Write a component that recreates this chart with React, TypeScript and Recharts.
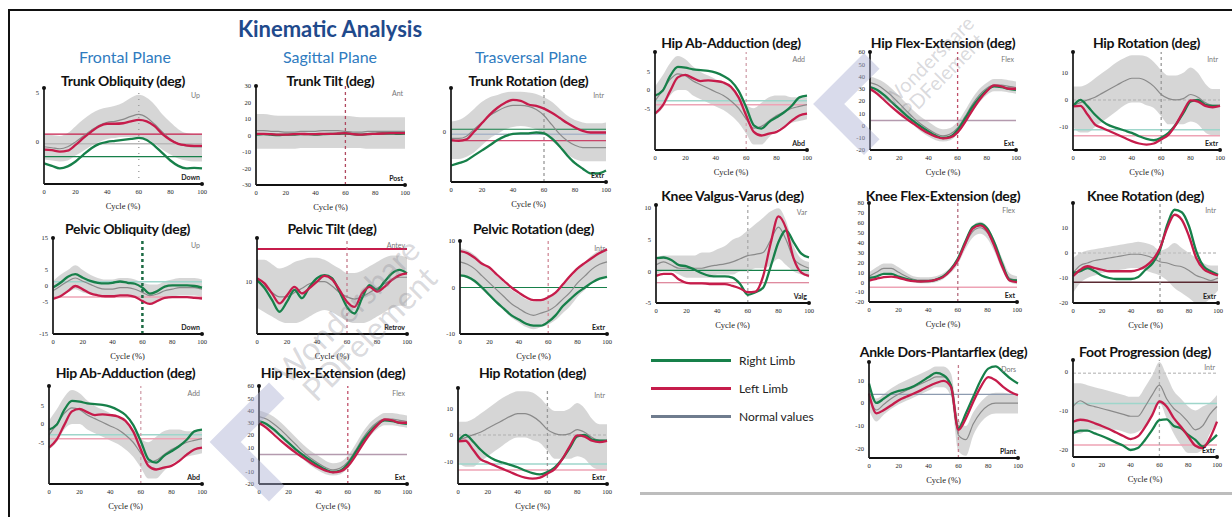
import React from 'react';
import { ComposedChart, Area, Line, XAxis, YAxis, ReferenceLine, ReferenceDot } from 'recharts';

// gait cycle sample points (%)
const CYCLE = [0, 5, 10, 15, 20, 25, 30, 35, 40, 45, 50, 55, 60, 65, 70, 75, 80, 85, 90, 95, 100];
const CYCLE_TICKS = [0, 20, 40, 60, 80, 100];

// ---- Trunk ----
const trunkObliqRight = [-2.2, -2.45, -2.7, -2.5, -2.0, -1.3, -0.65, -0.2, 0.0, 0.1, 0.2, 0.3, 0.4, 0.2, -0.4, -1.15, -1.9, -2.45, -2.7, -2.65, -2.7];
const trunkObliqLeft = [-0.8, -0.85, -1.0, -0.9, -0.3, 0.4, 1.05, 1.6, 1.85, 1.85, 1.9, 2.1, 2.25, 2.1, 1.6, 0.8, 0.2, -0.2, -0.35, -0.4, -0.4];
const trunkObliqNorm = [-0.5, -0.6, -0.7, -0.5, 0, 0.6, 1.2, 1.7, 2.0, 2.1, 2.3, 2.6, 2.8, 2.5, 1.8, 1.0, 0.3, -0.2, -0.4, -0.5, -0.5];
const trunkObliqHi = [0.8, 0.7, 0.6, 0.9, 1.6, 2.3, 2.9, 3.3, 3.5, 3.7, 4.0, 4.5, 4.8, 4.5, 3.8, 2.8, 2.0, 1.3, 0.9, 0.8, 0.8];
const trunkObliqLo = [-1.8, -1.9, -2.0, -1.9, -1.4, -0.9, -0.4, 0, 0.3, 0.4, 0.5, 0.5, 0.4, 0.3, -0.2, -0.8, -1.3, -1.7, -1.9, -2.0, -2.0];

const trunkTiltRight = [0.5, 0.8, 0.5, 0.3, 0.5, 0.5, 0.8, 0.8, 0.5, 0.8, 1, 1, 1.2, 0.8, 0.5, 0.8, 1, 1.2, 1.2, 1, 1.2];
const trunkTiltLeft = [1, 1, 0.8, 0.5, 0.5, 0.8, 1, 0.8, 0.8, 1, 1, 1.2, 1.5, 0.8, 0.5, 0.8, 1, 1.2, 1.5, 1.5, 1.5];
const trunkTiltNorm = [3, 3, 2.5, 2.5, 2, 2, 2.5, 2.5, 2.5, 3, 3, 3, 2.5, 2, 2, 2.5, 2.5, 2.5, 2.5, 2.5, 2.5];
const trunkTiltHi = [13, 13, 12.5, 12, 12, 12, 12, 12, 12, 12, 12, 12, 12, 11.5, 11, 11, 11, 11, 11, 11, 11];
const trunkTiltLo = [-8, -8, -8, -8, -8, -8, -7.5, -7.5, -7.5, -7.5, -7.5, -7.5, -7.5, -7.5, -7.5, -8, -8, -8, -8, -8, -8];

const trunkRotRight = [-7.4, -6.9, -6.3, -5.2, -4.1, -3.0, -1.85, -1.0, -0.5, -0.4, -0.4, -0.2, -0.4, -1.5, -3.2, -5.2, -6.9, -8.1, -9.1, -9.1, -8.5];
const trunkRotLeft = [-1.85, -2, -1.7, 0, 1.85, 3.7, 5.2, 6.3, 6.9, 6.7, 5.9, 5.6, 5.0, 4.1, 3.0, 1.85, 0.9, 0.15, -0.2, -0.2, -0.2];
const trunkRotNorm = [-1.5, -1.5, -1, 0.5, 2, 3.5, 4.5, 5.3, 5.7, 5.7, 5.5, 4.8, 3.5, 1.5, -0.5, -2, -3, -3.5, -3.5, -3.5, -3.5];
const trunkRotHi = [2.2, 2.5, 3.5, 5, 6.5, 7.5, 8, 8.5, 8.7, 8.7, 8.5, 8.2, 7.5, 6.5, 5, 3.5, 2.5, 2, 1.8, 1.8, 2];
const trunkRotLo = [-6, -6, -5.5, -4.5, -3, -1.5, -0.5, 0.5, 1, 1.2, 1, 0.5, -0.5, -2, -3.5, -5, -6, -6.5, -6.5, -6.5, -6.5];

// ---- Pelvis ----
const pelvObliqRight = [-0.5, 1, 2.9, 3.7, 2.6, 1.6, 1.0, 0.8, 1.0, 1.4, 1.0, 0.7, -0.5, -2.4, -1.6, -0.2, 0.2, 0.2, 0.2, 0, -0.5];
const pelvObliqLeft = [-4, -3.2, -1.6, 0, -1.05, -2.3, -2.9, -3.2, -3.2, -2.9, -2.9, -3.4, -4.7, -5.6, -4.7, -3.7, -3.5, -3.5, -3.5, -3.7, -3.9];
const pelvObliqNorm = [-1.5, 0, 1.5, 2.5, 1.5, 0.5, -0.5, -1, -1, -0.5, -0.5, -1, -2, -3, -2.5, -1.5, -1, -0.5, -0.5, -0.5, -1];
const pelvObliqHi = [1.5, 3.5, 5, 6.5, 5, 3.5, 2.5, 2, 2, 2.5, 2.5, 2, 1, 0.5, 0.5, 1.5, 2, 2.5, 2.5, 2.5, 2];
const pelvObliqLo = [-4, -3, -2, -1, -2, -2.5, -3, -3.5, -3.5, -3, -3, -3.5, -4.5, -5.5, -5, -4, -3.5, -3, -3, -3, -3.5];

const pelvTiltRight = [10.4, 8.5, 5.8, 3.1, 5.4, 8.1, 6.2, 8.8, 10.8, 11.5, 10.8, 7.7, 4.2, 2.7, 6.2, 9.2, 8.1, 10, 11.9, 12.7, 11.9];
const pelvTiltLeft = [10.8, 9.6, 7.3, 5, 6.9, 8.8, 7.3, 8.5, 10, 11.3, 10.5, 8.1, 5.4, 4.2, 7.3, 8.8, 7.7, 8.8, 10.4, 11.5, 11.9];
const pelvTiltNorm = [10, 9, 7.5, 6.5, 6.5, 7.5, 8.5, 9.5, 10, 10, 9, 7.5, 6.5, 6, 6.5, 7.5, 8.5, 9.5, 10.5, 11, 11];
const pelvTiltHi = [15, 15, 14, 13, 13.5, 14.5, 15, 15.5, 15.5, 15, 14, 13, 12, 12, 12.5, 13.5, 14.5, 15.5, 16, 16, 15.5];
const pelvTiltLo = [4, 3, 2, 1, 0.5, 0.5, 1, 2, 3, 3.5, 3, 2, 1, 0.5, 0.5, 1, 2, 3, 4, 4.5, 4.5];

const pelvRotRight = [2.6, 2.3, 1.4, 0, -1.6, -3.2, -4.6, -6, -6.9, -7.8, -8.2, -8.2, -7.4, -6, -4, -2.5, -1.1, 0, 1.1, 1.9, 2.3];
const pelvRotLeft = [7.8, 7.4, 6.4, 5.1, 4.3, 2.8, 1.4, 0, -1.1, -2.1, -2.7, -2.7, -2.1, -1.1, 0.7, 2.5, 4.1, 5.3, 6.4, 7.4, 8.2];
const pelvRotNorm = [5.5, 5, 4, 2.5, 1, -0.5, -2, -3.5, -4.5, -5.5, -6, -5.5, -5, -4, -2.5, -1, 1, 2.5, 4, 5, 5.5];
const pelvRotHi = [8.5, 8, 7, 5.5, 4, 2.5, 1, -0.5, -1.5, -2.5, -3, -2.5, -2, -1, 0.5, 2, 4, 5.5, 7, 8, 8.5];
const pelvRotLo = [2.5, 2, 1, -0.5, -2, -3.5, -5, -6.5, -7.5, -8.5, -9, -8.5, -8, -7, -5.5, -4, -2, -0.5, 1, 2, 2.5];

// ---- Hip ----
const hipAbAddRight = [-1.5, -0.2, 3.9, 6.4, 6.2, 5.7, 5.5, 5.3, 4.8, 3.9, 2.5, -0.2, -4.7, -9.7, -10.6, -8.8, -7.5, -6.1, -4.3, -2, -1.5];
const hipAbAddLeft = [-6.5, -4.3, -0.2, 3.5, 4.2, 3.3, 2.5, 2.7, 2.5, 2.1, 0.9, -2, -7, -11.5, -12.5, -12, -11.5, -10.2, -8.4, -7, -6.5];
const hipAbAddNorm = [-3, 0, 3, 4.5, 4, 2.5, 1.5, 0.5, -0.5, -1.5, -3, -5, -8, -10.5, -10, -8.5, -7, -6, -5, -4.5, -4];
const hipAbAddHi = [1, 4, 7.5, 9.4, 8.5, 6.5, 5, 4, 3, 2, 0.5, -1.5, -4, -5, -3.5, -2, -1.5, -1.5, -2, -2, -2];
const hipAbAddLo = [-7, -5, -1.5, 0, 0, -1.5, -2.5, -3.5, -4.5, -5.5, -7, -9, -12, -15, -15, -13, -11, -10, -9, -8.5, -8];

const hipFlexRight = [31.3, 29, 24.5, 19, 13.6, 8.1, 3.4, -0.9, -4.8, -8.3, -10.2, -9.1, -3.7, 5.4, 14.9, 22.6, 28.6, 31.9, 31.3, 30, 29];
const hipFlexLeft = [30, 25.8, 20.4, 15, 10, 5.4, 1.3, -2.8, -6.4, -9.1, -10.5, -9.7, -5.6, 2.6, 12.2, 21, 28, 32.7, 31.9, 30, 30];
const hipFlexNorm = [35, 33, 29, 24, 18, 12, 6, 1, -3, -6.5, -8.5, -7, -2, 7, 17, 25, 30.5, 33, 33, 32, 31];
const hipFlexHi = [40, 38, 35, 30, 24, 18, 12, 7, 3, -1, -3, -2, 3, 12, 22, 30, 35, 38, 38, 37, 36];
const hipFlexLo = [28, 26, 22, 17, 11, 5, 0, -5, -9, -12, -13, -12, -7, 2, 11, 19, 25, 28, 28, 27, 26];

const hipRotRight = [-2.4, 0, -2.4, -5.5, -7.9, -9.5, -10.4, -11.3, -12.2, -13.4, -14.4, -14.9, -14, -12.2, -9.1, -4.9, -0.6, 0, -1.8, -2.2, -2.2];
const hipRotLeft = [-2.4, -2.2, -5.5, -9.1, -10.4, -11.6, -12.8, -14, -15.2, -16.1, -16.5, -16.1, -14.6, -12.8, -9.1, -4.3, -0.2, -0.6, -2.2, -2.7, -2.2];
const hipRotNorm = [-2, -1, 0, 1, 2.5, 4, 5.5, 7, 8, 8, 7, 5, 2, 0.5, 0, 0.5, 2, 1, -1, -2, -2];
const hipRotHi = [5, 5, 6, 8, 10, 12, 14, 15.5, 16.5, 16.5, 16, 14, 11, 9, 9, 10, 12, 10, 6, 4, 4];
const hipRotLo = [-10, -12, -12, -10, -8, -6, -4, -2, -1, -1, -2, -3, -6, -9, -9, -9, -8, -9, -12, -13, -13];

// ---- Knee ----
const kneeVarRight = [2.1, 2.2, 1.8, 1.0, 0.8, 0.3, -0.3, -0.7, -0.8, -0.8, -1, -2, -3.7, -3.3, -2.6, 0.8, 4.6, 6.5, 4.6, 2.8, 2.2];
const kneeVarLeft = [-0.7, -0.4, -0.4, -1.3, -1.8, -1.9, -1.9, -2, -2, -2, -2.3, -2.7, -3.3, -3.2, -0.8, 4.5, 8.7, 6.8, 2.0, -0.2, -0.7];
const kneeVarNorm = [1, 1.5, 1, 0.5, 0.5, 0.5, 0.5, 0.8, 1, 1.2, 1.5, 2, 2.5, 2.7, 3, 5, 7, 5, 2, 1, 0.5];
const kneeVarHi = [2, 2.5, 2.5, 2.5, 2.5, 2.5, 3, 3, 3.5, 4, 5, 5.5, 6.5, 7.5, 8.5, 9.5, 10, 8, 4, 2, 1.5];
const kneeVarLo = [-0.5, 0, 0, -0.5, -1, -1, -1, -1, -0.5, -0.5, -0.5, 0, 0, 0.5, 0.5, 1, 2, 1, 0, -0.5, -1];

const kneeFlexRight = [4.4, 5.7, 8.4, 8.4, 5.7, 3.4, 1.7, 1, 1, 2.4, 5.7, 12.5, 23.6, 40.5, 55.7, 59, 54, 38.9, 18.6, 2.4, 1.7];
const kneeFlexLeft = [1.7, 3.4, 5.1, 5.7, 4.4, 2.4, 1, 0.7, 1, 2.4, 5.1, 11.8, 22, 38.9, 54, 57.4, 51.7, 35.5, 15.9, 1.7, 0];
const kneeFlexNorm = [6, 10, 14, 14, 10, 6, 3, 2, 2, 3, 6, 12, 22, 38, 51, 55, 50, 36, 18, 4, 2];
const kneeFlexHi = [10, 15, 19, 19, 15, 10, 6, 5, 5, 6, 9, 15, 26, 43, 57, 61, 56, 42, 24, 9, 6];
const kneeFlexLo = [2, 5, 9, 9, 5, 2, 0, -1, -1, 0, 3, 9, 18, 33, 45, 49, 44, 30, 12, 0, -2];

const kneeRotRight = [-8, -7.3, -6, -7.3, -9.1, -10, -10.4, -10.4, -10.4, -9.6, -6.7, -4, 1.3, 11.3, 17.3, 16.3, 10.7, 0.7, -5.3, -7.3, -8.7];
const kneeRotLeft = [-9.3, -6.7, -5.3, -6, -6.7, -7.3, -7.3, -7.3, -7.3, -6.7, -5.3, -2.7, 2, 10, 15.3, 13.3, 6.7, -2, -6.4, -8, -9];
const kneeRotNorm = [-8, -5, -4, -3, -2.5, -2, -1.5, -1, -0.5, -0.5, -1, -2, -3.5, -4, -5, -5.5, -7, -9, -10, -11, -10];
const kneeRotHi = [-2, 0, 1, 1.5, 2, 2.5, 3, 3.5, 4, 4.5, 4, 3, 1, 2, 4, 2, 0, -2, -4, -5, -5];
const kneeRotLo = [-16, -12, -10, -9, -8, -7.5, -7, -6.5, -6, -6, -7, -8, -9, -11, -14, -16, -18, -20, -20, -18, -15];

// ---- Ankle / foot ----
const ankleRight = [8.6, 0.1, 2.0, 4.2, 5.4, 6.1, 7.4, 9.3, 11.4, 13.2, 12.2, 7.8, -11, -4.5, 2.8, 10, 15.1, 16.1, 13.6, 10.7, 8.6];
const ankleLeft = [4.2, -4.5, -3, -0.9, 1.3, 2.8, 4.2, 5.7, 7.4, 8.8, 9.7, 7.1, -11.7, -6.7, 0.6, 7.1, 11.4, 10, 7.1, 4.9, 3.5];
const ankleNorm = [2, -3, -0.5, 2, 4, 5.5, 7, 8.5, 10, 11.5, 11.5, 8, -14, -16, -9, -4, -1, 0, 0, 0, 0];
const ankleHi = [7, 2, 4, 6.5, 8.5, 10, 11.5, 13, 14.5, 16, 16, 13, -7, -10, -4, 0.5, 3.5, 4.5, 4.5, 4, 4];
const ankleLo = [-3, -8, -5, -2.5, -0.5, 1, 2.5, 4, 5.5, 7, 7, 3, -21, -23, -14, -8.5, -5.5, -4.5, -4.5, -4.5, -4.5];

const footProgRight = [-15.9, -15.2, -15.2, -15.9, -16.6, -17.4, -18.3, -19.1, -20.2, -19.7, -17.6, -15, -12.5, -12.3, -14, -14.6, -16.3, -17.6, -19.3, -18, -16.3];
const footProgLeft = [-12.9, -12.4, -12.6, -13.3, -14, -14.8, -15.7, -16.6, -17.4, -16.7, -14.3, -11.2, -7.7, -9, -12, -14.2, -16.7, -19.1, -19.7, -17.2, -12.9];
const footProgNorm = [-9, -7.5, -8.5, -9, -9.5, -10, -10.5, -11, -11.5, -11.5, -9, -6, -3.5, -7, -9.5, -11, -13, -15, -14, -11, -9];
const footProgHi = [-3, -3, -3.5, -4, -4.5, -5, -5.5, -6, -6.5, -6.5, -4, -1, 2.5, -1, -5, -7, -9, -10, -9, -8, -6];
const footProgLo = [-16, -16, -15, -15, -15, -15, -15, -15.5, -16, -15.5, -14, -11, -8, -12, -16, -19, -21, -21, -20, -16, -13];

const GREEN = '#17804a';
const RED = '#c61c4b';
const NORM = '#8a8a8a';
const BAND = '#d2d2d2';
const PINK = '#eea3b5';
const CYAN = '#9ed6cb';
const GREYREF = '#b9b9b9';

type Ref = { y: number; color: string; width?: number; dash?: string };
type Spec = {
  title: string;
  right: number[]; left: number[]; norm: number[]; hi: number[]; lo: number[];
  domain: [number, number];
  ticks: number[];
  refs: Ref[];
  vColor: string; vWidth?: number; vDash?: string;
  topLabel: string; bottomLabel: string;
};

const trunkObliquity: Spec = {
  title: 'Trunk Obliquity (deg)', right: trunkObliqRight, left: trunkObliqLeft, norm: trunkObliqNorm, hi: trunkObliqHi, lo: trunkObliqLo,
  domain: [-4.3, 5.5], ticks: [5, 0],
  refs: [{ y: 0.8, color: RED, width: 1.2 }, { y: -0.2, color: GREYREF }, { y: -1.5, color: GREEN, width: 1.2 }],
  vColor: '#999', vDash: '1 5', topLabel: 'Up', bottomLabel: 'Down',
};
const trunkTilt: Spec = {
  title: 'Trunk Tilt (deg)', right: trunkTiltRight, left: trunkTiltLeft, norm: trunkTiltNorm, hi: trunkTiltHi, lo: trunkTiltLo,
  domain: [-30, 30], ticks: [30, 20, 10, 0, -10, -20, -30], refs: [],
  vColor: '#b0485f', vDash: '3 3', topLabel: 'Ant', bottomLabel: 'Post',
};
const trunkRotation: Spec = {
  title: 'Trunk Rotation (deg)', right: trunkRotRight, left: trunkRotLeft, norm: trunkRotNorm, hi: trunkRotHi, lo: trunkRotLo,
  domain: [-11, 9.5], ticks: [0],
  refs: [{ y: 0.5, color: GREEN, width: 1.2 }, { y: -0.6, color: '#a9b5c8' }, { y: -2.0, color: RED, width: 1 }],
  vColor: '#999', vDash: '3 3', topLabel: 'Intr', bottomLabel: 'Extr',
};
const pelvicObliquity: Spec = {
  title: 'Pelvic Obliquity (deg)', right: pelvObliqRight, left: pelvObliqLeft, norm: pelvObliqNorm, hi: pelvObliqHi, lo: pelvObliqLo,
  domain: [-15, 15], ticks: [15, 5, 0, -5, -15],
  refs: [{ y: 1.3, color: CYAN }, { y: -3.4, color: PINK }],
  vColor: '#1d6b44', vWidth: 2.5, vDash: '3 3', topLabel: 'Up', bottomLabel: 'Down',
};
const pelvicTilt: Spec = {
  title: 'Pelvic Tilt (deg)', right: pelvTiltRight, left: pelvTiltLeft, norm: pelvTiltNorm, hi: pelvTiltHi, lo: pelvTiltLo,
  domain: [-2, 20], ticks: [10],
  refs: [{ y: 17.5, color: RED, width: 2 }],
  vColor: '#c47b8b', vDash: '3 3', topLabel: 'Antev', bottomLabel: 'Retrov',
};
const pelvicRotation: Spec = {
  title: 'Pelvic Rotation (deg)', right: pelvRotRight, left: pelvRotLeft, norm: pelvRotNorm, hi: pelvRotHi, lo: pelvRotLo,
  domain: [-10, 10], ticks: [10, 0, -10],
  refs: [{ y: 0, color: GREEN, width: 1.2 }],
  vColor: '#d08a98', vDash: '3 3', topLabel: 'Intr', bottomLabel: 'Extr',
};
const hipAbAdduction: Spec = {
  title: 'Hip Ab-Adduction (deg)', right: hipAbAddRight, left: hipAbAddLeft, norm: hipAbAddNorm, hi: hipAbAddHi, lo: hipAbAddLo,
  domain: [-16.5, 10.5], ticks: [5, 0, -5],
  refs: [{ y: -2.9, color: CYAN }, { y: -4, color: PINK }],
  vColor: '#d2a0ab', vDash: '3 3', topLabel: 'Add', bottomLabel: 'Abd',
};
const hipFlexExtension: Spec = {
  title: 'Hip Flex-Extension (deg)', right: hipFlexRight, left: hipFlexLeft, norm: hipFlexNorm, hi: hipFlexHi, lo: hipFlexLo,
  domain: [-20, 60], ticks: [60, 50, 40, 30, 20, 10, 0, -10, -20],
  refs: [{ y: 4, color: '#b49aae', width: 1.5 }],
  vColor: '#c0506a', vDash: '3 3', topLabel: 'Flex', bottomLabel: 'Ext',
};
const hipRotation: Spec = {
  title: 'Hip Rotation (deg)', right: hipRotRight, left: hipRotLeft, norm: hipRotNorm, hi: hipRotHi, lo: hipRotLo,
  domain: [-18.5, 17.7], ticks: [10, 0, -10],
  refs: [{ y: 0, color: '#bdbdbd', dash: '3 2' }, { y: -11, color: CYAN }, { y: -13.2, color: PINK }],
  vColor: '#999', vDash: '3 3', topLabel: 'Intr', bottomLabel: 'Extr',
};
const kneeValgusVarus: Spec = {
  title: 'Knee Valgus-Varus (deg)', right: kneeVarRight, left: kneeVarLeft, norm: kneeVarNorm, hi: kneeVarHi, lo: kneeVarLo,
  domain: [-5, 10.5], ticks: [10, 5, 0, -5],
  refs: [{ y: 0.15, color: GREEN, width: 1.2 }, { y: -1.8, color: '#d5657f', width: 1.2 }],
  vColor: '#aaa', vDash: '3 3', topLabel: 'Var', bottomLabel: 'Valg',
};
const kneeFlexExtension: Spec = {
  title: 'Knee Flex-Extension (deg)', right: kneeFlexRight, left: kneeFlexLeft, norm: kneeFlexNorm, hi: kneeFlexHi, lo: kneeFlexLo,
  domain: [-20, 80], ticks: [80, 70, 60, 50, 40, 30, 20, 10, 0, -10, -20],
  refs: [{ y: -5, color: PINK, width: 1.5 }],
  vColor: '#b46a7c', vDash: '3 3', topLabel: 'Flex', bottomLabel: 'Ext',
};
const kneeRotation: Spec = {
  title: 'Knee Rotation (deg)', right: kneeRotRight, left: kneeRotLeft, norm: kneeRotNorm, hi: kneeRotHi, lo: kneeRotLo,
  domain: [-20, 20], ticks: [10, 0, -10, -20],
  refs: [{ y: 0, color: '#c4c4c4', dash: '3 2' }, { y: -11.7, color: '#5a2a32', width: 1.5 }],
  vColor: '#999', vDash: '3 3', topLabel: 'Intr', bottomLabel: 'Extr',
};
const ankleDorsPlantar: Spec = {
  title: 'Ankle Dors-Plantarflex (deg)', right: ankleRight, left: ankleLeft, norm: ankleNorm, hi: ankleHi, lo: ankleLo,
  domain: [-24, 18], ticks: [10, 0, -10, -20],
  refs: [{ y: 3.8, color: '#8d9bb0', width: 1.2 }],
  vColor: '#c47b8b', vDash: '3 3', topLabel: 'Dors', bottomLabel: 'Plant',
};
const footProgression: Spec = {
  title: 'Foot Progression (deg)', right: footProgRight, left: footProgLeft, norm: footProgNorm, hi: footProgHi, lo: footProgLo,
  domain: [-22, 3], ticks: [0, -10, -20],
  refs: [{ y: -0.4, color: '#c8c8c8', dash: '3 2' }, { y: -8.2, color: CYAN }, { y: -18.9, color: PINK }],
  vColor: '#aaa', vDash: '3 3', topLabel: 'Intr', bottomLabel: 'Extr',
};

// plot-area boxes [left, right, top, bottom] and title centre y
type Placed = { spec: Spec; box: [number, number, number, number]; titleY: number };
const PANELS: Placed[] = [
  { spec: trunkObliquity, box: [44, 202, 88, 184], titleY: 81 },
  { spec: trunkTilt, box: [256, 405, 86, 185], titleY: 81 },
  { spec: trunkRotation, box: [451, 606, 88, 182], titleY: 81 },
  { spec: pelvicObliquity, box: [53, 202, 238, 334], titleY: 229 },
  { spec: pelvicTilt, box: [257, 407, 238, 334], titleY: 229 },
  { spec: pelvicRotation, box: [460, 607, 241, 334], titleY: 229 },
  { spec: hipAbAdduction, box: [49, 202, 386, 484], titleY: 373 },
  { spec: hipFlexExtension, box: [259, 407, 386, 484], titleY: 373 },
  { spec: hipRotation, box: [458, 607, 388, 484], titleY: 373 },
  { spec: hipAbAdduction, box: [655, 807, 52, 150], titleY: 43 },
  { spec: hipFlexExtension, box: [870, 1016, 52, 150], titleY: 43 },
  { spec: hipRotation, box: [1073, 1220, 52, 150], titleY: 43 },
  { spec: kneeValgusVarus, box: [656, 809, 205, 303], titleY: 196 },
  { spec: kneeFlexExtension, box: [869, 1017, 203, 302], titleY: 196 },
  { spec: kneeRotation, box: [1073, 1218, 203, 303], titleY: 196 },
  { spec: ankleDorsPlantar, box: [869, 1018, 362, 458], titleY: 352 },
  { spec: footProgression, box: [1073, 1217, 360, 457], titleY: 352 },
];

const LEGEND = [
  { name: 'Right Limb', color: GREEN },
  { name: 'Left Limb', color: RED },
  { name: 'Normal values', color: '#6f7c8e' },
];

const Y_AXIS_W = 20;
const TOP_M = 4;
const RIGHT_M = 8;
const X_AXIS_H = 27;
const SANS = 'Lato, "Open Sans", sans-serif';
const SERIF = '"Liberation Serif", serif';

function GaitPanel({ spec, box, titleY }: Placed) {
  const [x0, x1, y0, y1] = box;
  const data = CYCLE.map((c, i) => ({
    c,
    right: spec.right[i],
    left: spec.left[i],
    norm: spec.norm[i],
    band: [spec.lo[i], spec.hi[i]],
  }));
  const w = x1 - x0 + Y_AXIS_W + RIGHT_M;
  const h = y1 - y0 + TOP_M + X_AXIS_H;
  const tickStyle = { fontSize: 6.5, fill: '#222', fontFamily: SERIF };

  return (
    <>
      <div style={{ position: 'absolute', left: x0 - 40, width: x1 - x0 + 80, top: titleY - 9, height: 18, lineHeight: '18px', textAlign: 'center', fontFamily: SANS, fontWeight: 700, fontSize: 14, color: '#111', letterSpacing: -0.3, zIndex: 2 }}>
        {spec.title}
      </div>
      <div style={{ position: 'absolute', left: x0 - Y_AXIS_W, top: y0 - TOP_M }}>
        <ComposedChart width={w} height={h} data={data} margin={{ top: TOP_M, right: RIGHT_M, bottom: 0, left: 0 }}>
          <XAxis dataKey="c" type="number" domain={[0, 100]} ticks={CYCLE_TICKS} interval={0}
            tick={tickStyle} tickLine={false} tickSize={3} height={X_AXIS_H}
            axisLine={{ stroke: '#111', strokeWidth: 2 }}
            label={{ value: 'Cycle (%)', position: 'insideBottom', offset: 2, fontSize: 8.5, fill: '#222', fontFamily: SERIF }} />
          <YAxis type="number" domain={spec.domain} ticks={spec.ticks} interval={0} allowDataOverflow
            tick={tickStyle} tickLine={false} tickSize={3} width={Y_AXIS_W}
            axisLine={{ stroke: '#222', strokeWidth: 1.8 }} />
          <Area dataKey="band" type="monotone" stroke="none" fill={BAND} fillOpacity={0.9} isAnimationActive={false} />
          {spec.refs.map((r, i) => (
            <ReferenceLine key={i} y={r.y} stroke={r.color} strokeWidth={r.width ?? 1.5} strokeDasharray={r.dash} />
          ))}
          <ReferenceLine x={60} stroke={spec.vColor} strokeWidth={spec.vWidth ?? 1.3} strokeDasharray={spec.vDash} />
          <Line dataKey="norm" type="monotone" stroke={NORM} strokeWidth={1.2} dot={false} isAnimationActive={false} />
          <Line dataKey="right" type="monotone" stroke={GREEN} strokeWidth={2.3} dot={false} isAnimationActive={false} />
          <Line dataKey="left" type="monotone" stroke={RED} strokeWidth={2.3} dot={false} isAnimationActive={false} />
          <ReferenceDot x={0} y={spec.domain[1]} r={2} fill="#111" stroke="none" ifOverflow="visible" />
          <ReferenceDot x={100} y={spec.domain[0]} r={2} fill="#111" stroke="none" ifOverflow="visible" />
        </ComposedChart>
      </div>
      <div style={{ position: 'absolute', left: x1 - 40, width: 38, top: y0 + 3, textAlign: 'right', fontFamily: SANS, fontSize: 7, color: '#777' }}>
        {spec.topLabel}
      </div>
      <div style={{ position: 'absolute', left: x1 - 40, width: 38, top: y1 - 11, textAlign: 'right', fontFamily: SANS, fontSize: 7, fontWeight: 700, color: '#222' }}>
        {spec.bottomLabel}
      </div>
    </>
  );
}

// faint watermark left over in the source image
function Chevron({ tipX, tipY, s }: { tipX: number; tipY: number; s: number }) {
  return (
    <div style={{ position: 'absolute', left: tipX + s / Math.SQRT2 - s / 2, top: tipY - s / 2, width: s, height: s, boxSizing: 'border-box', borderLeft: '22px solid rgba(170,176,210,0.45)', borderBottom: '22px solid rgba(170,176,210,0.45)', transform: 'rotate(45deg)', zIndex: 3 }} />
  );
}
function WatermarkText({ cx, cy, size }: { cx: number; cy: number; size: number }) {
  return (
    <div style={{ position: 'absolute', left: cx - 160, top: cy - size, width: 320, textAlign: 'center', fontFamily: SANS, fontSize: size, lineHeight: `${size}px`, color: 'rgba(130,130,140,0.3)', transform: 'rotate(-45deg)', zIndex: 3 }}>
      Wondershare<br />PDFelement
    </div>
  );
}

export default function App() {
  return (
    <div style={{ position: 'absolute', left: 0, top: 0, width: 1232, height: 517, background: '#fff', overflow: 'hidden', fontFamily: SANS }}>
      {/* frame */}
      <div style={{ position: 'absolute', left: 8, top: 9, width: 1224, height: 2, background: '#111' }} />
      <div style={{ position: 'absolute', left: 8, top: 9, width: 2, height: 508, background: '#111' }} />
      <div style={{ position: 'absolute', left: 640, top: 492, width: 592, height: 3, background: '#bdbdbd' }} />

      <div style={{ position: 'absolute', left: 180, width: 300, top: 15, textAlign: 'center', fontWeight: 700, fontSize: 22, color: '#1f4a8c' }}>
        Kinematic Analysis
      </div>
      {[
        { t: 'Frontal Plane', x: 125 },
        { t: 'Sagittal Plane', x: 330 },
        { t: 'Trasversal Plane', x: 531 },
      ].map((p) => (
        <div key={p.t} style={{ position: 'absolute', left: p.x - 80, width: 160, top: 47, textAlign: 'center', fontSize: 16, color: '#2f7bc0' }}>
          {p.t}
        </div>
      ))}

      {PANELS.map((p, i) => (
        <GaitPanel key={i} {...p} />
      ))}

      {LEGEND.map((l, i) => (
        <div key={l.name} style={{ position: 'absolute', left: 651, top: 353 + i * 28, height: 14, display: 'flex', alignItems: 'center' }}>
          <div style={{ width: 80, height: 3, background: l.color }} />
          <span style={{ marginLeft: 8, fontSize: 12, color: '#222' }}>{l.name}</span>
        </div>
      ))}

      <Chevron tipX={210} tipY={442} s={84} />
      <WatermarkText cx={358} cy={322} size={32} />
      <Chevron tipX={813} tipY={104} s={72} />
      <WatermarkText cx={935} cy={68} size={20} />
    </div>
  );
}
